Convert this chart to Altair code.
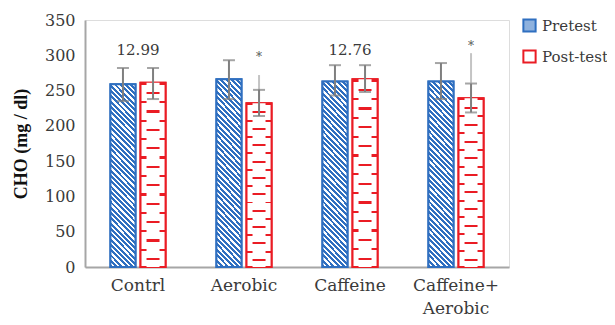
import altair as alt
import pandas as pd

groups = ["Contrl", "Aerobic", "Caffeine", "Caffeine+ Aerobic"]
series = ["Pretest", "Post-test"]
pre_vals = [259, 266, 263, 263]
pre_lo = [235, 238, 243, 238]
pre_hi = [282, 293, 286, 289]
post_vals = [261, 232, 266, 239]
post_lo = [238, 214, 248, 219]
post_hi = [282, 251, 286, 260]

# annotations
note_groups = ["Contrl", "Caffeine"]
note_texts = ["12.99", "12.76"]
note_y = [307, 307]
star_groups = ["Aerobic", "Caffeine+ Aerobic"]
star_y = [298, 313]
stray_top = [272, 303]
stray_bottom = [236, 261]

BLUE = "#2f6fc0"
RED = "#ea1c24"
GREY = "#7f7f7f"
TXT = "#3a3a3a"
FONT = "DejaVu Serif"

rows = []
for i, g in enumerate(groups):
    rows.append(dict(group=g, series="Pretest", value=pre_vals[i], lo=pre_lo[i], hi=pre_hi[i]))
    rows.append(dict(group=g, series="Post-test", value=post_vals[i], lo=post_lo[i], hi=post_hi[i]))
df = pd.DataFrame(rows)

notes = pd.DataFrame(dict(group=note_groups, text=note_texts, y=note_y))
stars = pd.DataFrame(dict(group=star_groups, series=["Post-test"] * 2, text=["*"] * 2, y=star_y))
strays = pd.DataFrame(dict(group=star_groups, series=["Post-test"] * 2, top=stray_top, bottom=stray_bottom))

# --- pattern fills as gradients (styling only) ---
def diag_gradient(n=40, frac=0.55, r=0.139):
    stops = []
    for k in range(n):
        a = k / n
        b = (k + frac) / n
        stops += [
            {"offset": a, "color": BLUE},
            {"offset": b, "color": BLUE},
            {"offset": b, "color": "white"},
            {"offset": (k + 1) / n, "color": "white"},
        ]
    return {"gradient": "linear", "x1": 0, "y1": 1, "x2": r * (1 + r), "y2": -r, "stops": stops}


def hline_gradient(n=10, th=0.012, phase=0.0):
    stops = [{"offset": 0, "color": "white"}]
    for k in range(n):
        a = (k + phase) / n
        b = a + th
        if b > 1:
            break
        stops += [
            {"offset": a, "color": "white"},
            {"offset": a, "color": RED},
            {"offset": b, "color": RED},
            {"offset": b, "color": "white"},
        ]
    stops.append({"offset": 1, "color": "white"})
    return {"gradient": "linear", "x1": 0, "y1": 0, "x2": 0, "y2": 1, "stops": stops}


x_scale = alt.Scale(paddingInner=0.48, paddingOuter=0.24)
x_axis = alt.Axis(
    title=None,
    labelAngle=0,
    labelFont=FONT,
    labelFontSize=17,
    labelColor=TXT,
    labelPadding=10,
    labelLineHeight=23,
    ticks=False,
    domainColor="#a6a6a6",
    domainWidth=2,
    labelExpr="datum.label == 'Caffeine+ Aerobic' ? ['Caffeine+', 'Aerobic'] : datum.label",
)
x_enc = alt.X("group:N", sort=groups, scale=x_scale, axis=x_axis)
xo_enc = alt.XOffset("series:N", sort=series, scale=alt.Scale(paddingInner=0.167, paddingOuter=0))
y_scale = alt.Scale(domain=[0, 350])
y_axis = alt.Axis(
    title="CHO (mg / dl)",
    titleFont="Liberation Serif",
    titleFontSize=18,
    titleFontWeight="bold",
    titleColor="#111111",
    titlePadding=14,
    values=list(range(0, 351, 50)),
    labelOverlap=False,
    labelFont=FONT,
    labelFontSize=16,
    labelColor=TXT,
    labelPadding=10,
    ticks=False,
    grid=False,
    domainColor="#a6a6a6",
    domainWidth=2,
)


def Y(field):
    return alt.Y(field, scale=y_scale, axis=y_axis)


base = alt.Chart(df)

legend_bars = base.mark_bar(strokeWidth=2).encode(
    x=x_enc,
    xOffset=xo_enc,
    y=Y("value:Q"),
    fill=alt.Fill(
        "series:N",
        sort=series,
        scale=alt.Scale(domain=series, range=["#8fb2de", "white"]),
        legend=alt.Legend(
            title=None,
            orient="none",
            legendX=437,
            legendY=-2,
            symbolType="square",
            symbolSize=150,
            symbolStrokeWidth=2,
            labelFont=FONT,
            labelFontSize=15,
            labelColor=TXT,
            labelOffset=5,
            rowPadding=10,
        ),
    ),
    stroke=alt.Stroke(
        "series:N",
        sort=series,
        scale=alt.Scale(domain=series, range=[BLUE, RED]),
        legend=alt.Legend(title=None, orient="none", legendX=437, legendY=-2),
    ),
)

pre_bars = base.transform_filter(alt.datum.series == "Pretest").mark_bar(
    fill=diag_gradient(), stroke=BLUE, strokeWidth=2
).encode(x=x_enc, xOffset=xo_enc, y=Y("value:Q"))

post_bars = base.transform_filter(alt.datum.series == "Post-test").mark_bar(
    fill=hline_gradient(phase=0.0), stroke=RED, strokeWidth=2
).encode(x=x_enc, xOffset=xo_enc, y=Y("value:Q"))

post_center = base.transform_filter(alt.datum.series == "Post-test").mark_bar(
    fill=hline_gradient(phase=0.5), strokeWidth=0, width=13
).encode(x=x_enc, xOffset=xo_enc, y=Y("value:Q"))

err = base.mark_rule(color=GREY, strokeWidth=2).encode(
    x=x_enc, xOffset=xo_enc, y=Y("lo:Q"), y2="hi:Q"
)
cap_lo = base.mark_tick(color=GREY, size=12, thickness=2, orient="horizontal").encode(
    x=x_enc, xOffset=xo_enc, y=Y("lo:Q")
)
cap_hi = base.mark_tick(color=GREY, size=12, thickness=2, orient="horizontal").encode(
    x=x_enc, xOffset=xo_enc, y=Y("hi:Q")
)

stray = alt.Chart(strays).mark_rule(color="#c4c4c4", strokeWidth=2).encode(
    x=x_enc,
    xOffset=alt.XOffset("series:N", sort=series),
    y=Y("bottom:Q"),
    y2="top:Q",
)

note_text = alt.Chart(notes).mark_text(font=FONT, fontSize=15, color=TXT, baseline="middle").encode(
    x=x_enc, y=Y("y:Q"), text="text:N"
)
star_text = alt.Chart(stars).mark_text(font=FONT, fontSize=12, color="#555555", baseline="middle").encode(
    x=x_enc,
    xOffset=alt.XOffset("series:N", sort=series),
    y=Y("y:Q"),
    text="text:N",
)

chart = (
    alt.layer(legend_bars, pre_bars, post_bars, post_center, stray, err, cap_lo, cap_hi, note_text, star_text)
    .resolve_scale(x="shared", xOffset="shared")
    .properties(
        width=424,
        height=247,
        autosize=alt.AutoSizeParams(type="none"),
        padding={"left": 77, "top": 12, "right": 98, "bottom": 50},
    )
    .configure_view(strokeWidth=0)
    .configure(background="white")
)

chart.save("out.html", embed_options={"renderer": "svg", "actions": False})
